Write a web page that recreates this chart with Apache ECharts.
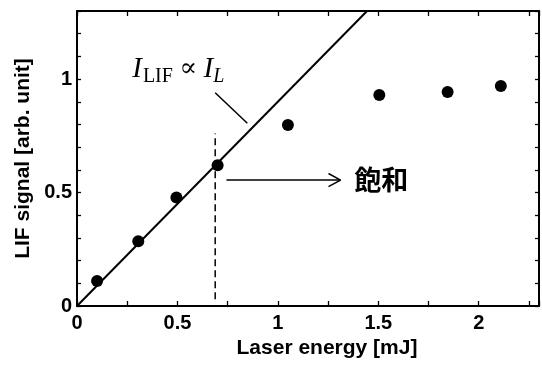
<!DOCTYPE html>
<html><head><meta charset="utf-8">
<script src="https://cdn.jsdelivr.net/npm/echarts@6/dist/echarts.min.js"></script>
<style>html,body{margin:0;padding:0;background:#fff}#c{width:542px;height:367px}</style>
</head><body><div id="c"></div>
<script>
// measured data (laser energy [mJ] vs LIF signal [arb. unit])
const energy = [0.10, 0.305, 0.495, 0.70, 1.05, 1.505, 1.845, 2.11];
const signal = [0.11, 0.285, 0.478, 0.62, 0.798, 0.93, 0.943, 0.969];
// tick labels
const xTickLabels = ['0', '0.5', '1', '1.5', '2'];
const yTickLabels = ['0', '0.5', '1'];
// annotation geometry in data units
const fitLine = [[0, 0], [1.444, 1.3]];
const saturationMarker = [[0.688, 0.03], [0.688, 0.76]];
const leaderLine = [[0.688, 0.94], [0.848, 0.805]];
const arrowShaft = [[0.744, 0.555], [1.312, 0.555]];
const arrowHead = [[1.252, 0.584], [1.312, 0.555], [1.252, 0.526]];
const formulaAnchor = [[0.275, 1.035]];
const saturationAnchor = [[1.38, 0.555]];
const saturationText = '飽和';

const points = energy.map((e, i) => [e, signal[i]]);
const black = '#000';
const tickFont = {color: black, fontFamily: "'Liberation Sans', Arial, sans-serif", fontWeight: 'bold', fontSize: 20};
const nameFont = {color: black, fontFamily: "'Liberation Sans', Arial, sans-serif", fontWeight: 'bold', fontSize: 21};

function xFmt(v) { const s = String(+(+v).toFixed(2)); return xTickLabels.includes(s) ? s : ''; }
function yFmt(v) { const s = String(+(+v).toFixed(2)); return yTickLabels.includes(s) ? s : ''; }

const axisCommon = {
  axisLine: {show: true, onZero: false, lineStyle: {color: black, width: 2}},
  axisTick: {show: true, inside: true, length: 5, lineStyle: {color: black, width: 1.3}},
  splitLine: {show: false}
};

const chart = echarts.init(document.getElementById('c'), null, {renderer: 'canvas'});
const serif = "'Liberation Serif', 'DejaVu Serif', serif";
const lineSeries = (data, width, type) => ({
  type: 'line', data, showSymbol: false, symbol: 'none', silent: true, z: 2,
  lineStyle: {color: black, width, type: type || 'solid', opacity: 1}
});
chart.setOption({
  animation: false,
  backgroundColor: '#fff',
  grid: {left: 77, right: 3, top: 11, bottom: 61},
  xAxis: [
    Object.assign({}, axisCommon, {
      type: 'value', position: 'bottom', min: 0, max: 2.3, interval: 0.25,
      name: 'Laser energy [mJ]', nameLocation: 'middle', nameGap: 32,
      nameTextStyle: Object.assign({}, nameFont, {padding: [0, 0, 0, 38]}),
      axisLabel: Object.assign({}, tickFont, {margin: 7, formatter: xFmt})
    }),
    Object.assign({}, axisCommon, {
      type: 'value', position: 'top', min: 0, max: 2.3, interval: 0.25,
      axisLabel: {show: false}
    })
  ],
  yAxis: [
    Object.assign({}, axisCommon, {
      type: 'value', position: 'left', min: 0, max: 1.3, interval: 0.1,
      name: 'LIF signal [arb. unit]', nameLocation: 'middle', nameGap: 38, nameRotate: 90,
      nameTextStyle: nameFont,
      axisTick: {show: true, inside: true, length: 4, lineStyle: {color: black, width: 1.3}},
      axisLabel: Object.assign({}, tickFont, {margin: 5, formatter: yFmt})
    }),
    Object.assign({}, axisCommon, {
      type: 'value', position: 'right', min: 0, max: 1.3, interval: 0.1,
      axisTick: {show: true, inside: true, length: 4, lineStyle: {color: black, width: 1.3}},
      axisLabel: {show: false}
    })
  ],
  series: [
    lineSeries(fitLine, 2),
    lineSeries(saturationMarker, 1.5, [7, 4]),
    lineSeries(leaderLine, 1.5),
    lineSeries(arrowShaft, 1.5),
    lineSeries(arrowHead, 1.5),
    {
      type: 'scatter', data: points, symbol: 'circle', symbolSize: 12, z: 5, silent: true,
      itemStyle: {color: black, opacity: 1}
    },
    {
      type: 'scatter', data: formulaAnchor, symbolSize: 0, silent: true, z: 6,
      itemStyle: {color: black, opacity: 1},
      label: {
        show: true, position: 'right', distance: 0, opacity: 1, color: black,
        formatter: '{i|I}{s|LIF}{o| ∝ }{i|I}{si|L}',
        rich: {
          i: {fontFamily: serif, fontStyle: 'italic', fontSize: 29, lineHeight: 32, verticalAlign: 'top', color: black},
          s: {fontFamily: serif, fontSize: 20, lineHeight: 20, padding: [20, 0, 0, 1], verticalAlign: 'bottom', color: black},
          o: {fontFamily: serif, fontSize: 26, lineHeight: 32, padding: [1, 0, 0, 0], verticalAlign: 'top', color: black},
          si: {fontFamily: serif, fontStyle: 'italic', fontSize: 20, lineHeight: 20, padding: [20, 0, 0, 0], verticalAlign: 'bottom', color: black}
        }
      }
    },
    {
      type: 'scatter', data: saturationAnchor, symbolSize: 0, silent: true, z: 6,
      itemStyle: {color: black, opacity: 1},
      label: {
        show: true, position: 'right', distance: 0, formatter: saturationText, opacity: 1,
        color: black, fontSize: 27, fontWeight: 'bold', fontFamily: "'Noto Sans CJK JP', sans-serif"
      }
    }
  ]
});
</script></body></html>
